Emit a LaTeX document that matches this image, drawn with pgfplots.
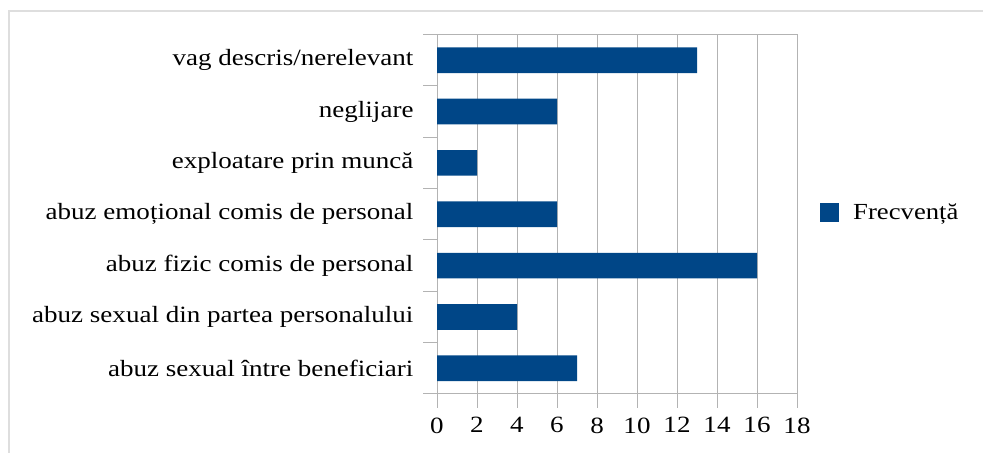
\documentclass[border=0pt]{standalone}
\usepackage{fontspec}
\setmainfont{Liberation Serif}[FakeStretch=1.16]
\usepackage{pgfplots}
\pgfplotsset{compat=1.18}
\definecolor{barblue}{RGB}{0,70,135}
\definecolor{gridgray}{RGB}{179,179,179}
\definecolor{framegray}{RGB}{222,222,222}
\begin{document}
\begin{tikzpicture}[x=1bp,y=1bp]
\path[use as bounding box] (0,0) rectangle (983,453);
\draw[framegray, line width=2bp] (9,-20) -- (9,442) -- (1000,442);
\begin{axis}[
  at={(437bp,59bp)}, anchor=south west,
  scale only axis, width=360bp, height=359.5bp,
  xbar, xmin=0, xmax=18, ymin=0.5, ymax=7.5,
  xtick={0,2,...,18}, ytick={1,...,7},
  yticklabels={abuz sexual între beneficiari, abuz sexual din partea personalului, abuz fizic comis de personal, abuz emoțional comis de personal, exploatare prin muncă, neglijare, vag descris/nerelevant},
  /pgf/number format/assume math mode=true,
  every tick label/.append style={font=\fontsize{23.3bp}{27bp}\selectfont, text=black},
  xmajorgrids, grid style={gridgray, line width=1bp},
  axis line style={gridgray, line width=1bp},
  tick style={gridgray, line width=1bp},
  major tick length=14bp, tick align=outside,
  xtick pos=lower, ytick pos=left,
  ytick style={draw=none},
  yticklabel style={xshift=-6bp},
  xticklabel style={yshift=-6bp},
  extra y ticks={0.5,1.5,...,7.5}, extra y tick labels={},
  extra y tick style={ytick style={draw=gridgray, line width=1bp}, grid=none},
  legend style={at={(1.064,0.5056)}, anchor=west, draw=none, fill=none, inner sep=0pt,
    font=\fontsize{23bp}{27bp}\selectfont, column sep=14bp, nodes={inner sep=0pt}},
  legend image code/.code={\fill[barblue] (0bp,-9.5bp) rectangle (19bp,9.5bp);},
]
\addplot[fill=barblue, draw=none, bar width=0.5] coordinates {(7,1) (4,2) (16,3) (6,4) (2,5) (6,6) (13,7)};
\addlegendentry{Frecvență}
\end{axis}
\end{tikzpicture}
\end{document}
